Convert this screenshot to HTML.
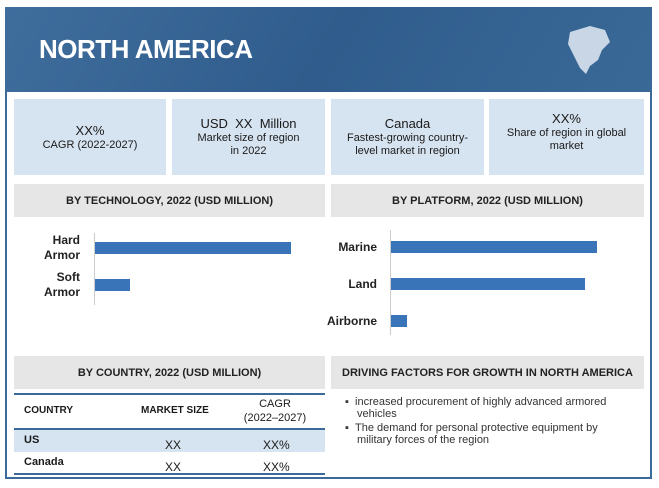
<!DOCTYPE html>
<html><head><meta charset="utf-8"><style>
*{margin:0;padding:0;box-sizing:border-box}
body{width:659px;height:488px;background:#fff;font-family:"Liberation Sans",sans-serif;position:relative;overflow:hidden;color:#1a1a1a}
.abs{position:absolute}
.card{position:absolute;top:99px;height:76px;background:#d6e3f0;text-align:center;font-size:11px;display:flex;flex-direction:column;justify-content:center;line-height:13px}
.card b{font-weight:normal;font-size:13px;line-height:16px}
.sec{position:absolute;background:#e6e6e6;font-size:11px;font-weight:bold;display:flex;align-items:center;justify-content:center;color:#222}
.lbl{position:absolute;font-size:12px;font-weight:bold;text-align:right;line-height:15px;color:#222}
.bar{position:absolute;background:#3a74b8;height:12px}
</style></head><body>
<div class="abs" style="left:5px;top:7px;width:647px;height:472px;border:2px solid #3a6a9a"></div>
<div class="abs" style="left:5px;top:7px;width:647px;height:85px;background:linear-gradient(120deg,#3f6d9c,#2f5c8c 50%,#3a6997)"></div>
<div class="abs" style="left:39px;top:34px;color:#fff;font-size:26px;font-weight:bold;letter-spacing:-0.5px">NORTH AMERICA</div>
<svg class="abs" style="left:560px;top:22px" width="56" height="58"><path d="M10 10 L30 4 L45 8 L50 20 L42 28 L38 38 L30 44 L26 52 L20 46 L14 34 L8 22 Z" fill="#c8d6e6"/></svg>
<div class="card" style="left:14px;width:152px"><b>XX%</b>CAGR (2022-2027)</div>
<div class="card" style="left:172px;width:153px"><b>USD&nbsp; XX&nbsp; Million</b>Market size of region<br>in 2022</div>
<div class="card" style="left:331px;width:153px"><b>Canada</b>Fastest-growing country-<br>level market in region</div>
<div class="card" style="left:489px;width:155px;justify-content:flex-start;padding-top:12px"><b>XX%</b>Share of region in global<br>market</div>
<div class="sec" style="left:14px;top:184px;width:311px;height:33px">BY TECHNOLOGY, 2022 (USD MILLION)</div>
<div class="sec" style="left:331px;top:184px;width:313px;height:33px">BY PLATFORM, 2022 (USD MILLION)</div>
<div class="abs" style="left:94px;top:233px;width:1px;height:72px;background:#ccc"></div>
<div class="abs" style="left:390px;top:230px;width:1px;height:105px;background:#ccc"></div>
<div id="charts"></div>
<div class="sec" style="left:14px;top:356px;width:311px;height:33px">BY COUNTRY, 2022 (USD MILLION)</div>
<div class="sec" style="left:331px;top:356px;width:313px;height:33px">DRIVING FACTORS FOR GROWTH IN NORTH AMERICA</div>
<div class="abs" style="left:14px;top:393px;width:311px;height:2px;background:#3a6a9a"></div>
<div class="abs" style="left:14px;top:428px;width:311px;height:2px;background:#3a6a9a"></div>
<div class="abs" style="left:14px;top:430px;width:311px;height:22px;background:#d6e3f0"></div>
<div class="abs" style="left:14px;top:473px;width:311px;height:2px;background:#3a6a9a"></div>
<div class="abs" style="left:24px;top:405px;font-size:10px;font-weight:bold">COUNTRY</div>
<div class="abs" style="left:141px;top:405px;font-size:10px;font-weight:bold">MARKET SIZE</div>
<div class="abs" style="left:235px;top:397px;width:80px;text-align:center;font-size:11px;line-height:14px">CAGR<br>(2022–2027)</div>
<div class="abs" style="left:24px;top:434px;font-size:11px;font-weight:bold">US</div>
<div class="abs" style="left:165px;top:438px;font-size:12px">XX</div>
<div class="abs" style="left:263px;top:438px;font-size:12px">XX%</div>
<div class="abs" style="left:24px;top:456px;font-size:11px;font-weight:bold">Canada</div>
<div class="abs" style="left:165px;top:460px;font-size:12px">XX</div>
<div class="abs" style="left:263px;top:460px;font-size:12px">XX%</div>
<div class="abs" style="left:345px;top:396px;width:285px;font-size:11px;line-height:12px;color:#333">
<div style="padding-left:12px;text-indent:-12px;margin-bottom:2px">▪&nbsp;&nbsp;increased procurement of highly advanced armored vehicles</div>
<div style="padding-left:12px;text-indent:-12px">▪&nbsp;&nbsp;The demand for personal protective equipment by military forces of the region</div>
</div>
<script>
const techCats=["Hard<br>Armor","Soft<br>Armor"];
const techVals=[100,18];
const platCats=["Marine","Land","Airborne"];
const platVals=[100,94,8];
const c=document.getElementById('charts');
function drawBars(cats,vals,x0,wMax,y0,step,labelRight,prefix){
  const max=Math.max(...vals);
  cats.forEach((cat,i)=>{
    const yc=y0+i*step;
    const b=document.createElement('div');b.className='bar';
    
    
    b.style.left=x0+'px';b.style.top=(yc-6)+'px';b.style.width=(vals[i]/max*wMax)+'px';
    c.appendChild(b);
    const l=document.createElement('div');l.className='lbl';
    
    
    l.innerHTML=cat;l.style.width='80px';l.style.left=(labelRight-80)+'px';
    const lines=cat.split('<br>').length;
    l.style.top=(yc-lines*7.5)+'px';
    c.appendChild(l);
  });
}
drawBars(techCats,techVals,95,196,248,37,80,'tech');
drawBars(platCats,platVals,391,206,247,37,377,'platform');
</script>
</body></html>
